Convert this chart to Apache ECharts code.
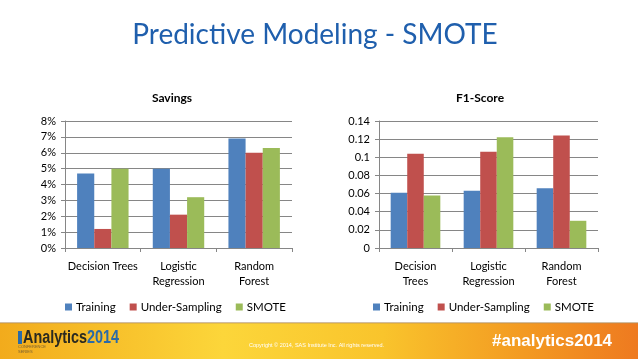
<!DOCTYPE html>
<html><head><meta charset="utf-8">
<script src="https://cdn.jsdelivr.net/npm/echarts@6/dist/echarts.min.js"></script>
<style>html,body{margin:0;padding:0;background:#fff}#c{width:638px;height:359px}</style>
</head><body><div id="c"></div>
<script>
const categoriesLeft = ['Decision Trees', 'Logistic\nRegression', 'Random\nForest'];
const categoriesRight = ['Decision\nTrees', 'Logistic\nRegression', 'Random\nForest'];
const seriesNames = ['Training', 'Under-Sampling', 'SMOTE'];
const savingsTraining = [4.7, 5.0, 6.9];
const savingsUnder = [1.2, 2.1, 6.0];
const savingsSmote = [5.0, 3.2, 6.3];
const f1Training = [0.061, 0.063, 0.066];
const f1Under = [0.104, 0.106, 0.124];
const f1Smote = [0.058, 0.122, 0.030];
const colors = ['#4F81BD', '#C0504D', '#9BBB59'];

const font = 'Lato, "Open Sans", sans-serif';
const chart = echarts.init(document.getElementById('c'));

function yAxis(grid, max, interval, fmt) {
  return {
    type: 'value', gridIndex: grid, min: 0, max: max, interval: interval,
    axisLine: {show: true, lineStyle: {color: '#868686'}},
    axisTick: {show: true, length: 4, lineStyle: {color: '#868686'}},
    splitLine: {lineStyle: {color: '#868686', width: 1}},
    axisLabel: {color: '#000', fontFamily: font, fontSize: 11, margin: 9, formatter: fmt}
  };
}
function xAxis(grid, cats) {
  return {
    type: 'category', gridIndex: grid, data: cats,
    axisLine: {lineStyle: {color: '#868686'}},
    axisTick: {show: true, length: 4, lineStyle: {color: '#868686'}},
    axisLabel: {color: '#000', fontFamily: font, fontSize: 11, margin: 11, lineHeight: 15, interval: 0}
  };
}
function bars(vals, i, grid) {
  return {
    type: 'bar', name: seriesNames[i], xAxisIndex: grid, yAxisIndex: grid, data: vals,
    itemStyle: {color: colors[i]}, barGap: '0%', barCategoryGap: '32%', animation: false
  };
}
const legendStyle = {fontFamily: font, fontSize: 11.5, color: '#000', padding: [0, 0, 0, -1]};

chart.setOption({
  animation: false,
  title: [
    {text: 'Predictive Modeling - SMOTE', left: 310, textAlign: 'center', top: 16,
     textStyle: {color: '#1F5FAD', fontFamily: font, fontSize: 28, fontWeight: 'normal'}},
    {text: 'Savings', left: 167, textAlign: 'center', top: 87,
     textStyle: {color: '#000', fontFamily: font, fontSize: 12, fontWeight: 'bold'}},
    {text: 'F1-Score', left: 475, textAlign: 'center', top: 87,
     textStyle: {color: '#000', fontFamily: font, fontSize: 12, fontWeight: 'bold'}}
  ],
  legend: [
    {data: seriesNames, left: 60, top: 296, itemWidth: 7, itemHeight: 7, itemGap: 14,
     textStyle: legendStyle, icon: 'rect'},
    {data: seriesNames, left: 368, top: 296, itemWidth: 7, itemHeight: 7, itemGap: 14,
     textStyle: legendStyle, icon: 'rect'}
  ],
  grid: [
    {left: 65, top: 121, width: 227, height: 127},
    {left: 379, top: 121, width: 219, height: 127}
  ],
  xAxis: [xAxis(0, categoriesLeft), xAxis(1, categoriesRight)],
  yAxis: [yAxis(0, 8, 1, v => v + '%'), yAxis(1, 0.14, 0.02, v => +v.toFixed(2) + '')],
  series: [
    bars(savingsTraining, 0, 0), bars(savingsUnder, 1, 0), bars(savingsSmote, 2, 0),
    bars(f1Training, 0, 1), bars(f1Under, 1, 1), bars(f1Smote, 2, 1)
  ],
  graphic: [
    {type: 'rect', shape: {x: 0, y: 323, width: 638, height: 36}, silent: true,
     style: {fill: new echarts.graphic.LinearGradient(0, 0, 1, 0, [
       {offset: 0, color: '#f2ab1c'}, {offset: 0.35, color: '#fcd63a'},
       {offset: 0.6, color: '#f9c42c'}, {offset: 0.82, color: '#f39a22'},
       {offset: 1, color: '#ee7a20'}])}},
    {type: 'rect', shape: {x: 0, y: 322, width: 638, height: 1.5}, silent: true,
     style: {fill: '#b09060', opacity: 0.6}},
    {type: 'rect', shape: {x: 18, y: 331, width: 4, height: 13}, style: {fill: '#2a6aa8'}},
    {type: 'text', x: 23, y: 329, scaleX: 0.8, style: {
      text: '{a|Analytics}{b|2014}',
      rich: {
        a: {fill: '#2a2a20', font: '900 18px "Liberation Sans", Arial, sans-serif'},
        b: {fill: '#2a6aa8', font: '900 18px "Liberation Sans", Arial, sans-serif'}
      }}},
    {type: 'text', x: 18, y: 345, style: {text: 'CONFERENCE', fill: '#7a6030', font: '4px sans-serif'}},
    {type: 'text', x: 18, y: 349.5, style: {text: 'SERIES', fill: '#7a6030', font: '4px sans-serif'}},
    {type: 'text', x: 249, y: 342, style: {text: 'Copyright © 2014, SAS Institute Inc. All rights reserved.',
      fill: '#fff', font: '5.5px "Liberation Sans", sans-serif'}},
    {type: 'text', x: 492, y: 333, style: {text: '#analytics2014', fill: '#fff',
      font: 'bold 17px "Liberation Sans", Arial, sans-serif'}}
  ]
});
</script></body></html>
